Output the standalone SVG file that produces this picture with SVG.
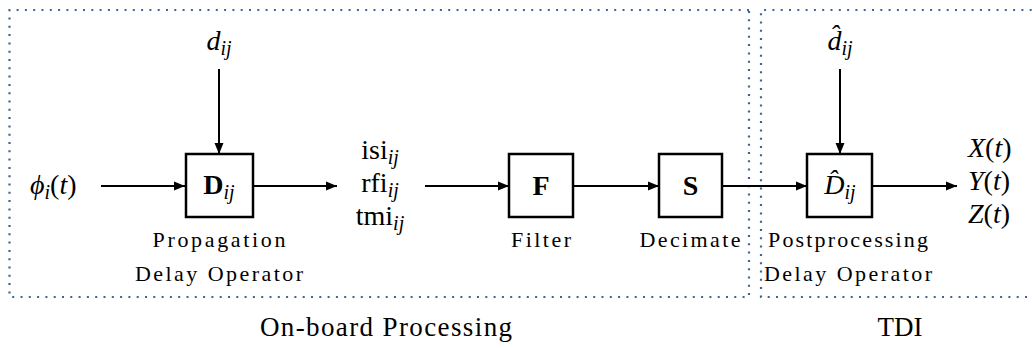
<svg xmlns="http://www.w3.org/2000/svg" width="1032" height="348" viewBox="0 0 1032 348">
<style>
.frame{fill:none;stroke:#3d6494;stroke-width:2.2;stroke-dasharray:2 6.3}
.box{fill:#fff;stroke:#000;stroke-width:2.5}
.wire{fill:none;stroke:#000;stroke-width:2}
</style>
<defs>
<marker id="ah" markerUnits="userSpaceOnUse" markerWidth="12" markerHeight="10" refX="11" refY="5" orient="auto">
<path d="M0,0.5 L11,5 L0,9.5 z" fill="#000"/>
</marker>
</defs>
<rect width="1032" height="348" fill="#fff"/>
<g id="frames">
<path class="frame" d="M749,10 H9.5 V297 H749 V10"/>
<path class="frame" d="M1040,10 H761 V297 H1040"/>
</g>
<g id="connectors">
<line class="wire" x1="219" y1="69" x2="219" y2="154" marker-end="url(#ah)"/>
<line class="wire" x1="101" y1="186" x2="185" y2="186" marker-end="url(#ah)"/>
<line class="wire" x1="253" y1="186" x2="337" y2="186" marker-end="url(#ah)"/>
<line class="wire" x1="425" y1="186" x2="509" y2="186" marker-end="url(#ah)"/>
<line class="wire" x1="573" y1="186" x2="659" y2="186" marker-end="url(#ah)"/>
<line class="wire" x1="722" y1="186" x2="807" y2="186" marker-end="url(#ah)"/>
<line class="wire" x1="840" y1="69" x2="840" y2="154" marker-end="url(#ah)"/>
<line class="wire" x1="872" y1="186" x2="957" y2="186" marker-end="url(#ah)"/>
</g>
<g id="input-phi">
<text x="30" y="194" font-size="28" font-family="Liberation Serif, Times New Roman, serif"><tspan font-style="italic">ϕ</tspan><tspan font-style="italic" font-size="20" dy="5">i</tspan><tspan dy="-5">(</tspan><tspan font-style="italic">t</tspan>)</text>
</g>
<g id="input-d">
<text x="219" y="50" font-size="28" font-family="Liberation Serif, Times New Roman, serif" text-anchor="middle"><tspan font-style="italic">d</tspan><tspan font-style="italic" font-size="20" dy="5">ij</tspan></text>
</g>
<g id="node-D">
<rect class="box" x="186" y="154" width="67" height="63"/>
<text x="219" y="194" font-size="28" font-family="Liberation Serif, Times New Roman, serif" text-anchor="middle"><tspan font-weight="bold">D</tspan><tspan font-style="italic" font-size="20" dy="5">ij</tspan></text>
<text x="219" y="247" font-size="22" font-family="Liberation Serif, Times New Roman, serif" text-anchor="middle" textLength="133" lengthAdjust="spacing">Propagation</text>
<text x="219" y="281" font-size="22" font-family="Liberation Serif, Times New Roman, serif" text-anchor="middle" textLength="168" lengthAdjust="spacing">Delay Operator</text>
</g>
<g id="signals">
<text x="380" y="159" font-size="28" font-family="Liberation Serif, Times New Roman, serif" text-anchor="middle">isi<tspan font-style="italic" font-size="20" dy="5">ij</tspan></text>
<text x="380" y="192" font-size="28" font-family="Liberation Serif, Times New Roman, serif" text-anchor="middle">rfi<tspan font-style="italic" font-size="20" dy="5">ij</tspan></text>
<text x="380" y="225" font-size="28" font-family="Liberation Serif, Times New Roman, serif" text-anchor="middle">tmi<tspan font-style="italic" font-size="20" dy="5">ij</tspan></text>
</g>
<g id="node-F">
<rect class="box" x="509" y="154" width="64" height="63"/>
<text x="541" y="195" font-size="28" font-family="Liberation Serif, Times New Roman, serif" font-weight="bold" text-anchor="middle">F</text>
<text x="541" y="247" font-size="22" font-family="Liberation Serif, Times New Roman, serif" text-anchor="middle" textLength="60" lengthAdjust="spacing">Filter</text>
</g>
<g id="node-S">
<rect class="box" x="659" y="154" width="63" height="63"/>
<text x="690.5" y="195" font-size="28" font-family="Liberation Serif, Times New Roman, serif" font-weight="bold" text-anchor="middle">S</text>
<text x="690" y="247" font-size="22" font-family="Liberation Serif, Times New Roman, serif" text-anchor="middle" textLength="101" lengthAdjust="spacing">Decimate</text>
</g>
<g id="input-dhat">
<text x="840" y="50" font-size="28" font-family="Liberation Serif, Times New Roman, serif" text-anchor="middle"><tspan font-style="italic">d̂</tspan><tspan font-style="italic" font-size="20" dy="5">ij</tspan></text>
</g>
<g id="node-Dhat">
<rect class="box" x="807" y="154" width="65" height="63"/>
<text x="840" y="194" font-size="28" font-family="Liberation Serif, Times New Roman, serif" text-anchor="middle"><tspan font-style="italic">D̂</tspan><tspan font-style="italic" font-size="20" dy="5">ij</tspan></text>
<text x="848" y="247" font-size="22" font-family="Liberation Serif, Times New Roman, serif" text-anchor="middle" textLength="160" lengthAdjust="spacing">Postprocessing</text>
<text x="848" y="281" font-size="22" font-family="Liberation Serif, Times New Roman, serif" text-anchor="middle" textLength="168" lengthAdjust="spacing">Delay Operator</text>
</g>
<g id="outputs">
<text x="968" y="157" font-size="28" font-family="Liberation Serif, Times New Roman, serif"><tspan font-style="italic">X</tspan>(<tspan font-style="italic">t</tspan>)</text>
<text x="968" y="190" font-size="28" font-family="Liberation Serif, Times New Roman, serif"><tspan font-style="italic">Y</tspan>(<tspan font-style="italic">t</tspan>)</text>
<text x="968" y="223" font-size="28" font-family="Liberation Serif, Times New Roman, serif"><tspan font-style="italic">Z</tspan>(<tspan font-style="italic">t</tspan>)</text>
</g>
<g id="captions">
<text x="386" y="336" font-size="27" font-family="Liberation Serif, Times New Roman, serif" text-anchor="middle" textLength="252" lengthAdjust="spacing">On-board Processing</text>
<text x="900" y="336" font-size="27" font-family="Liberation Serif, Times New Roman, serif" text-anchor="middle">TDI</text>
</g>
</svg>
